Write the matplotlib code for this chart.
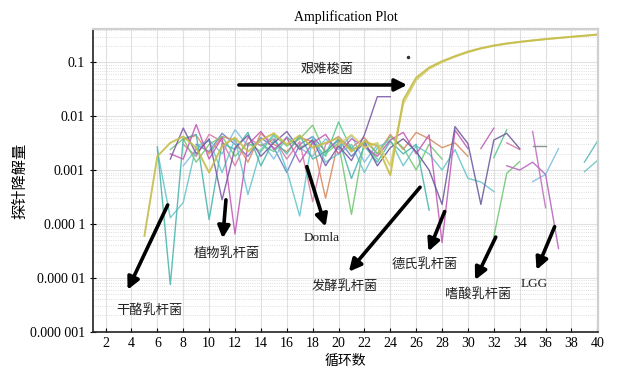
import numpy as np
import matplotlib
matplotlib.use('Agg')
import matplotlib.pyplot as plt
from matplotlib.ticker import LogLocator, NullFormatter

plt.rcParams['font.family'] = ['Liberation Serif', 'Noto Sans CJK SC', 'DejaVu Sans']

n = np.nan

# 循环数 5..40, 数值单位 0.001
cycles = np.arange(5, 41)

amp_a = [0.06, 1.8, 3.2, 4.2, 2.6, 0.9, 2.8, 4.0, 2.2, 3.6, 4.8, 3.0, 4.4, 2.6, 3.2, 4.0, 2.2, 3.4, 2.8,
         0.8, 20, 52, 80, 105, 130, 158, 183, 205, 224, 240, 255, 270, 284, 298, 312, 328]
amp_b = [n] * 15 + [3.0, 4.5, 2.6, 3.2, 1.2, 17, 47, 76, 101, 127, 154, 180, 202, 221, 238, 253,
                    268, 282, 296, 310, 326]
teal_a = [n, 2.7, 0.0075, 3.8, 4.6, 0.12, 3.2, 2.4, 5.0, 1.2, 3.6, 2.0, 4.4, 1.6, 2.2, 3.8, 0.7, 2.8,
          1.4, 3.4, 2.0, 3.0, 0.18] + [n] * 13
cyan_b = [n, 2.3, 0.13, 0.25, 2.8, 3.5, 0.9, 3.8, 0.35, 2.4, 4.6, 1.0, 0.14, 4.2, 1.4, 2.0, 3.0, 0.9,
          2.6, 3.6, 1.2, 2.8, 2.0, 1.0, 2.4, 0.7, 0.6, 0.4] + [n] * 8
purple_a = [n, n, 1.6, 6.0, 2.0, 3.8, 0.28, 2.6, 4.4, 1.8, 3.2, 5.2, 2.4, 3.6, 1.2, 2.8, 1.5, 4.5,
            23, 23] + [n] * 16
purple_b = [n] * 17 + [3.4, 1.2, 2.6, 3.8, 2.2, 1.0, 0.23, 6.4, 3.1, 0.23, 3.6, 4.8, 2.5] + [n] * 6
magenta_a = [n, n, 2.0, 1.6, 7.0, 1.6, 4.0, 0.065, 3.0, 5.2, 2.4, 4.0, 1.4, 3.2, 4.6, 2.0, 3.8, 2.8,
             1.8, 3.6, 5.0, 2.0, 4.5, 0.045, 5.5, 2.5] + [n] * 10
magenta_b = [n] * 26 + [2.5, 6.0] + [n] * 8
magenta_c = [n] * 28 + [1.2, 1.0, 1.4, 0.83, 0.035] + [n] * 3
magenta_d = [n] * 30 + [5.2, 0.2] + [n] * 4
pink = [n, n, n, 3.0, 1.8, 4.6, 3.4, 1.2, 4.0, 2.8, 3.8, 1.6, 3.4, 0.26, 3.0, 4.2, 2.4, 3.0] \
       + [n] * 10 + [3.2, 2.4] + [n] * 6
orange = [n, n, n, 3.6, 4.4, 2.0, 4.2, 3.6, 1.4, 4.8, 3.0, 2.2, 4.0, 3.4, 0.3, 3.6, 2.6, 4.0, 2.0,
          4.6, 2.4, 5.0, 3.8, 2.6, 3.2, 1.8] + [n] * 10
green = [n, n, 2.4, 3.8, 1.4, 3.0, 4.2, 1.8, 3.2, 2.2, 4.4, 2.8, 3.8, 6.8, 2.0, 3.2, 0.15, 3.6, 2.0,
         4.2, 2.6, 1.0, 3.0, 1.6, n, n, n, 0.058, 0.87, 1.44] + [n] * 6
green_b = [n] * 9 + [3.0, 2.2, 4.0, 2.6, 3.4, 1.8, 7.8, 2.4, 3.0, 1.6] + [n] * 8 + [1.7, 5.6] + [n] * 7
light_blue = [n, n, n, 1.2, 2.4, 3.6, 2.0, 5.6, 2.8, 3.4, 1.6, 4.2, 2.6, 1.8, 3.8, 2.4, 4.4, 1.4,
              3.0] + [n] * 11 + [0.61, 0.83, 2.5] + [n] * 3
blue = [n, n, n, n, 3.0, 2.2, 4.8, 3.0, 1.8, 4.0, 2.6, 0.9, 3.0, 4.2, 2.2, 3.6, 1.8, 3.2] + [n] * 18
gray = [n] * 30 + [2.8, 2.8] + [n] * 4
teal_c = [n] * 34 + [1.4, 3.4]
teal_d = [n] * 34 + [0.93, 1.5]

series = [
    (blue, '#6a82c8', 1.0), (light_blue, '#80bfe0', 1.0), (orange, '#d98c62', 1.0),
    (pink, '#d77ca6', 1.0), (green, '#74c874', 1.0), (green_b, '#5cc890', 1.0),
    (cyan_b, '#68c6cc', 1.0), (teal_a, '#4db6ae', 1.0), (magenta_a, '#c35cb6', 1.0),
    (magenta_b, '#c062b8', 1.0), (magenta_c, '#b866c0', 1.0), (magenta_d, '#c070c0', 1.0),
    (purple_a, '#7d5ca8', 1.0), (purple_b, '#6e5c9e', 1.0), (gray, '#7f8a8a', 1.0),
    (teal_c, '#5fbcb8', 1.0), (teal_d, '#6cc6c0', 1.0), (amp_b, '#d8d070', 1.4),
    (amp_a, '#c6bd4c', 1.4),
]

# 箭头和标注 (文字, 文字位置, 箭头起点, 箭头终点)
labels = ['艰难梭菌', '干酪乳杆菌', '植物乳杆菌', 'Domla', '发酵乳杆菌', '德氏乳杆菌', '嗜酸乳杆菌', 'LGG']
text_pos = [(19.1, 0.072), (5.4, 2.5e-6), (11.4, 2.8e-5), (18.7, 5.4e-5), (20.5, 6.8e-6),
            (26.7, 1.74e-5), (30.8, 4.8e-6), (35.15, 7.6e-6)]
arrow_from = [(12.3, 0.038), (6.8, 2.25e-4), (11.3, 2.8e-4), (17.55, 1.16e-3), (26.3, 4.8e-4),
              (28.2, 1.7e-4), (32.15, 5.7e-5), (36.7, 8.9e-5)]
arrow_to = [(25.3, 0.038), (3.7, 6.0e-6), (11.05, 5.4e-5), (19.0, 8.9e-5), (20.8, 1.3e-5),
            (26.95, 3.1e-5), (30.55, 9.1e-6), (35.3, 1.4e-5)]

yticks = [1e-6, 1e-5, 1e-4, 1e-3, 1e-2, 1e-1]
ytick_labels = ['0.000 001', '0.000 01', '0.000 1', '0.001', '0.01', '0.1']
xticks = list(range(2, 41, 2))

fig = plt.figure(figsize=(6.2, 3.74), dpi=100)
ax = fig.add_axes([0.1505, 0.1131, 0.814, 0.8086])

for vals, col, w in series:
    ax.plot(cycles, np.array(vals) * 1e-3, color=col, lw=w, alpha=0.9)

ax.plot([25.33], [0.125], 'o', color='#333333', ms=1.5)

for lab, tp, a0, a1 in zip(labels, text_pos, arrow_from, arrow_to):
    ax.annotate('', xy=a1, xytext=a0,
                arrowprops=dict(arrowstyle='-|>', color='black', lw=2.6, mutation_scale=18,
                                shrinkA=0, shrinkB=0))
    ax.text(tp[0], tp[1], lab, ha='center', va='center', fontsize=9.5, color='#222222')

ax.set_yscale('log')
ax.set_xlim(1.05, 40.05)
ax.set_ylim(1e-6, 0.41)
ax.set_xticks(xticks)
ax.set_yticks(yticks)
ax.set_yticklabels(ytick_labels)
ax.yaxis.set_minor_locator(LogLocator(base=10, subs=np.arange(2, 10)))
ax.yaxis.set_minor_formatter(NullFormatter())
ax.tick_params(axis='x', direction='in', length=3, labelsize=10, pad=4)
ax.tick_params(axis='y', direction='inout', length=5, labelsize=10)
ax.tick_params(axis='y', which='minor', length=0)

ax.grid(True, which='major', color='#e0e0e0', lw=0.8)
ax.grid(True, which='minor', axis='y', color='#d4d4d4', lw=0.6, ls=':')
ax.set_axisbelow(True)

for s in ['top', 'right']:
    ax.spines[s].set_color('#d0d0d0')
    ax.spines[s].set_linewidth(1.6)
for s in ['left', 'bottom']:
    ax.spines[s].set_color('#222222')
    ax.spines[s].set_linewidth(1.2)

ax.set_title('Amplification Plot', fontsize=10, pad=6)
ax.set_xlabel('循环数', fontsize=10, labelpad=3)
ax.set_ylabel('探针降解量', fontsize=11, labelpad=2)

fig.savefig('out.png', dpi=100)
